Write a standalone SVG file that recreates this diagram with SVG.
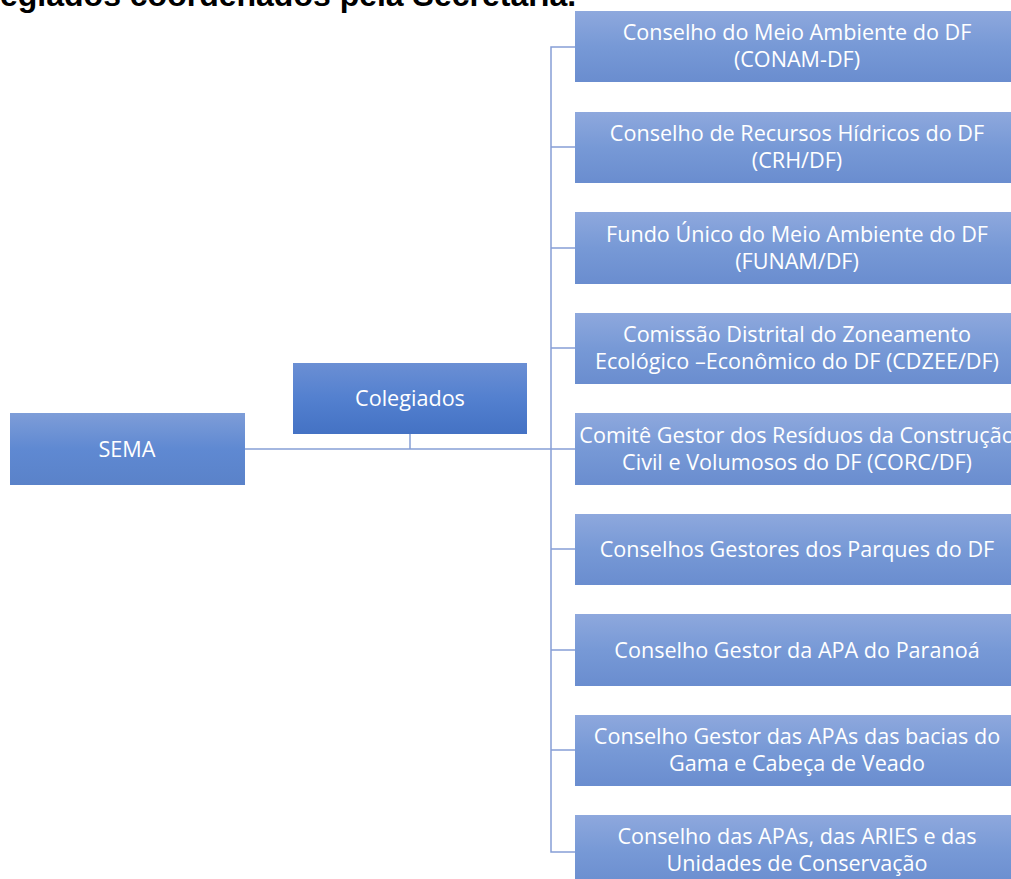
<svg xmlns="http://www.w3.org/2000/svg" width="1011" height="879" viewBox="0 0 1011 879">
<defs>
<linearGradient id="gBox" x1="0" y1="0" x2="0" y2="1">
<stop offset="0" stop-color="#8ea8dd"/>
<stop offset="0.5" stop-color="#7799d6"/>
<stop offset="1" stop-color="#6a8dcf"/>
</linearGradient>
<linearGradient id="gSema" x1="0" y1="0" x2="0" y2="1">
<stop offset="0" stop-color="#7e9dd8"/>
<stop offset="0.5" stop-color="#5f89d2"/>
<stop offset="1" stop-color="#5a82c9"/>
</linearGradient>
<linearGradient id="gCol" x1="0" y1="0" x2="0" y2="1">
<stop offset="0" stop-color="#6b8fd4"/>
<stop offset="0.5" stop-color="#5380cf"/>
<stop offset="1" stop-color="#4472c4"/>
</linearGradient>
</defs>
<style>
.t{font-family:"Open Sans","Liberation Sans",sans-serif;font-size:21.6px;fill:#ffffff;text-anchor:middle}
.c{fill:none;stroke:#869fd6;stroke-width:1.5}
.title{font-family:"Liberation Sans",Arial,sans-serif;font-weight:bold;font-size:32px;fill:#000000}
</style>
<text class="title" x="0" y="6">egiados coordenados pela Secretaria.</text>
<g id="connectors">
<path class="c" d="M245 449 H551"/>
<path class="c" d="M410 434 V449"/>
<path class="c" d="M575 47 H551 V852 H575"/>
<path class="c" d="M551 147 H575 M551 248 H575 M551 348 H575 M551 449 H575 M551 549 H575 M551 650 H575 M551 750 H575"/>
</g>
<g id="sema"><rect x="10" y="413" width="235" height="72" fill="url(#gSema)"/><text class="t" x="127" y="457">SEMA</text></g>
<g id="colegiados"><rect x="293" y="363" width="234" height="71" fill="url(#gCol)"/><text class="t" x="410" y="406">Colegiados</text></g>
<g id="n1"><rect x="575" y="11" width="444" height="71" fill="url(#gBox)"/><text class="t" x="797" y="40">Conselho do Meio Ambiente do DF</text><text class="t" x="797" y="67">(CONAM-DF)</text></g>
<g id="n2"><rect x="575" y="112" width="444" height="71" fill="url(#gBox)"/><text class="t" x="797" y="141">Conselho de Recursos Hídricos do DF</text><text class="t" x="797" y="168">(CRH/DF)</text></g>
<g id="n3"><rect x="575" y="212" width="444" height="72" fill="url(#gBox)"/><text class="t" x="797" y="242">Fundo Único do Meio Ambiente do DF</text><text class="t" x="797" y="269">(FUNAM/DF)</text></g>
<g id="n4"><rect x="575" y="313" width="444" height="71" fill="url(#gBox)"/><text class="t" x="797" y="342">Comissão Distrital do Zoneamento</text><text class="t" x="797" y="369">Ecológico –Econômico do DF (CDZEE/DF)</text></g>
<g id="n5"><rect x="575" y="413" width="444" height="72" fill="url(#gBox)"/><text class="t" x="797" y="443">Comitê Gestor dos Resíduos da Construção</text><text class="t" x="797" y="470">Civil e Volumosos do DF (CORC/DF)</text></g>
<g id="n6"><rect x="575" y="514" width="444" height="71" fill="url(#gBox)"/><text class="t" x="797" y="557">Conselhos Gestores dos Parques do DF</text></g>
<g id="n7"><rect x="575" y="614" width="444" height="72" fill="url(#gBox)"/><text class="t" x="797" y="658">Conselho Gestor da APA do Paranoá</text></g>
<g id="n8"><rect x="575" y="715" width="444" height="71" fill="url(#gBox)"/><text class="t" x="797" y="744">Conselho Gestor das APAs das bacias do</text><text class="t" x="797" y="771">Gama e Cabeça de Veado</text></g>
<g id="n9"><rect x="575" y="815" width="444" height="72" fill="url(#gBox)"/><text class="t" x="797" y="844">Conselho das APAs, das ARIES e das</text><text class="t" x="797" y="871">Unidades de Conservação</text></g>
</svg>
